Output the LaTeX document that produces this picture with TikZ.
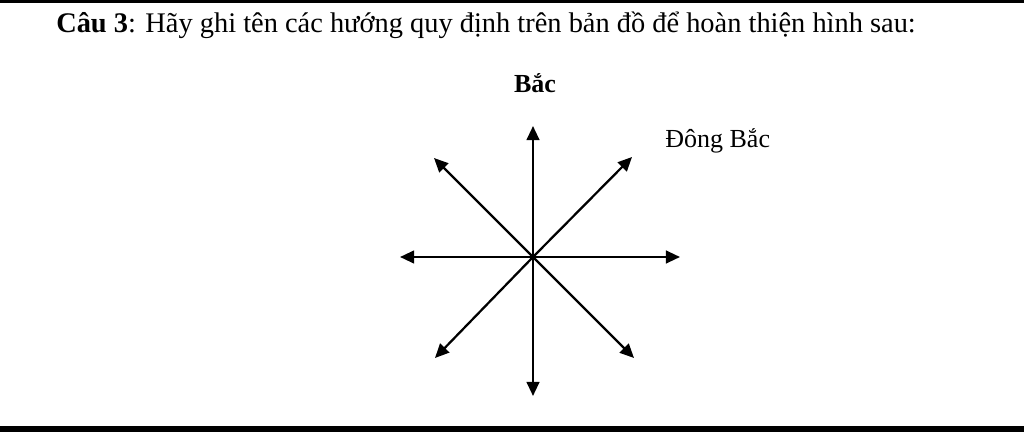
\documentclass[tikz,border=0pt]{standalone}
\usepackage{fontspec}
\setmainfont{Liberation Serif}
\usetikzlibrary{arrows.meta}
\tikzset{chu/.style={font=\fontsize{18.5}{22}\selectfont,inner sep=0pt},
huong/.style={line width=1.6pt,-{Triangle[length=10pt,width=9pt]}}}
\begin{document}
\begin{tikzpicture}[x=0.025cm,y=-0.025cm]
        \useasboundingbox (0,0) rectangle (1024,432);
        \fill[black] (0,0) rectangle (1024,3);
        \fill[black] (0,426) rectangle (1024,432);
        \node[chu,anchor=base west,font=\fontsize{20.2}{24}\selectfont] (title) at (56,33) {\textbf{Câu 3}: Hãy ghi tên các hướng quy định trên bản đồ để hoàn thiện hình sau:};
        \node[chu,anchor=base,font=\fontsize{18.5}{22}\selectfont\bfseries] (bac) at (535,93) {Bắc};
        \node[chu,anchor=base west] (dongbac) at (665,148) {Đông Bắc};
        \coordinate (O) at (533,257);
        \coordinate (N) at (533,126);
        \coordinate (S) at (533,396);
        \coordinate (W) at (400,257);
        \coordinate (E) at (680,257);
        \coordinate (NE) at (632,157);
        \coordinate (NW) at (434,158);
        \coordinate (SW) at (435,358);
        \coordinate (SE) at (634,358);
        \draw[huong] (O)--(N);
        \draw[huong] (O)--(S);
        \draw[huong] (O)--(W);
        \draw[huong] (O)--(E);
        \draw[huong] (O)--(NE);
        \draw[huong] (O)--(NW);
        \draw[huong] (O)--(SW);
        \draw[huong] (O)--(SE);
    \end{tikzpicture}
\end{document}
